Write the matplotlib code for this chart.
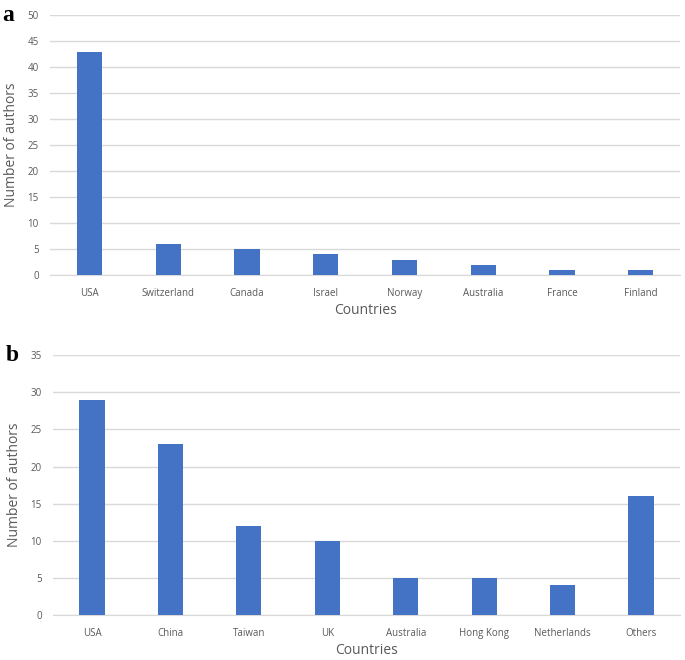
import matplotlib.pyplot as plt

countries_a = ['USA', 'Switzerland', 'Canada', 'Israel', 'Norway', 'Australia', 'France', 'Finland']
authors_a = [43, 6, 5, 4, 3, 2, 1, 1]

countries_b = ['USA', 'China', 'Taiwan', 'UK', 'Australia', 'Hong Kong', 'Netherlands', 'Others']
authors_b = [29, 23, 12, 10, 5, 5, 4, 16]

bar_color = '#4472C4'
grid_color = '#D9D9D9'
text_color = '#595959'
font = ['Open Sans', 'DejaVu Sans']


def draw_panel(ax, names, values, ymax, step, letter):
    x = range(len(names))
    ax.bar(x, values, width=0.32, color=bar_color, zorder=3)
    ax.set_xlim(-0.5, len(names) - 0.5)
    ax.set_ylim(0, ymax)
    ax.set_yticks(range(0, ymax + 1, step))
    ax.set_xticks(list(x))
    ax.set_xticklabels(names)
    ax.yaxis.grid(True, color=grid_color, linewidth=1, zorder=0)
    for s in ['top', 'right', 'left']:
        ax.spines[s].set_visible(False)
    ax.spines['bottom'].set_color(grid_color)
    ax.tick_params(axis='both', length=0, labelsize=7, labelcolor=text_color)
    ax.tick_params(axis='x', pad=9)
    ax.tick_params(axis='y', pad=8)
    for lab in ax.get_xticklabels() + ax.get_yticklabels():
        lab.set_family(font)
    ax.set_xlabel('Countries', fontsize=10, color=text_color, family=font, labelpad=3)
    ax.set_ylabel('Number of authors', fontsize=10, color=text_color, family=font, labelpad=6)
    ax.text(-0.075, 1.0, letter, transform=ax.transAxes, fontsize=17, fontweight='bold',
            family='Liberation Serif', va='center', ha='left')


fig = plt.figure(figsize=(6.85, 6.6), dpi=100)
ax1 = fig.add_axes([0.073, 0.583, 0.920, 0.394])
ax2 = fig.add_axes([0.077, 0.068, 0.916, 0.394])

draw_panel(ax1, countries_a, authors_a, 50, 5, 'a')
draw_panel(ax2, countries_b, authors_b, 35, 5, 'b')

fig.savefig('out.png', dpi=100)
